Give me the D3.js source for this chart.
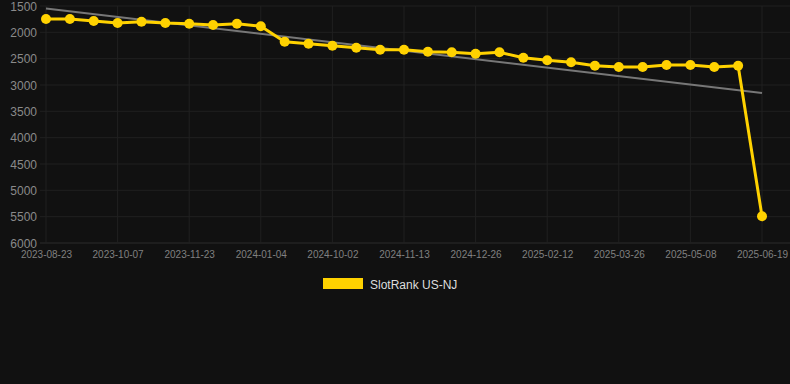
<!DOCTYPE html>
<html>
<head>
<meta charset="utf-8">
<script src="https://cdn.jsdelivr.net/npm/d3@7"></script>
<style>
  html, body { margin: 0; padding: 0; background: #111111; }
  svg { display: block; font-family: "Liberation Sans", Arial, sans-serif; }
</style>
</head>
<body>
<svg id="chart" width="790" height="384"></svg>
<script>
const categories = [
  "2023-08-23","2023-09-07","2023-09-22","2023-10-07","2023-10-22","2023-11-07",
  "2023-11-23","2023-12-07","2023-12-21","2024-01-04","2024-01-18","2024-09-18",
  "2024-10-02","2024-10-16","2024-10-30","2024-11-13","2024-11-27","2024-12-11",
  "2024-12-26","2025-01-10","2025-01-27","2025-02-12","2025-02-26","2025-03-12",
  "2025-03-26","2025-04-09","2025-04-23","2025-05-08","2025-05-22","2025-06-05",
  "2025-06-19"
];
const rankValues = [
  1747,1747,1785,1823,1798,1823,1836,1861,1836,1885,
  2178,2216,2254,2292,2330,2330,2368,2379,2406,2379,
  2482,2531,2569,2634,2658,2658,2620,2620,2658,2634,
  5493
];
const yTicks = [1500,2000,2500,3000,3500,4000,4500,5000,5500,6000];
const xTickLabels = categories.filter((d, i) => i % 3 === 0);
const seriesName = "SlotRank US-NJ";

const svg = d3.select("#chart");
const W = 790;
const plotLeft = 46, plotRight = 762, plotTop = 6, plotBottom = 243;

const x = d3.scalePoint().domain(categories).range([plotLeft, plotRight]);
const y = d3.scaleLinear().domain([1500, 6000]).range([plotTop, plotBottom]);

// horizontal grid
svg.append("g").selectAll("line").data(yTicks).join("line")
  .attr("x1", 40).attr("x2", W)
  .attr("y1", d => y(d)).attr("y2", d => y(d))
  .attr("stroke", d => d === 6000 ? "#2c2c2c" : "#202020")
  .attr("stroke-width", 1);

// vertical grid
svg.append("g").selectAll("line").data(xTickLabels).join("line")
  .attr("x1", d => x(d)).attr("x2", d => x(d))
  .attr("y1", plotTop).attr("y2", plotBottom)
  .attr("stroke", "#202020").attr("stroke-width", 1);

// y axis labels
const yAxis = d3.axisLeft(y).tickValues(yTicks).tickFormat(d3.format("d"))
  .tickSize(0).tickPadding(0);
const gy = svg.append("g").attr("transform", "translate(37,0)").call(yAxis);
gy.select(".domain").remove();
gy.selectAll("text").attr("fill", "#8a8a8a").style("font-size", "12px")
  .attr("dy", "0.35em");

// x axis labels
const xAxis = d3.axisBottom(x).tickValues(xTickLabels).tickSize(0).tickPadding(0);
const gx = svg.append("g").attr("transform", "translate(0,255)").call(xAxis);
gx.select(".domain").remove();
gx.selectAll("text").attr("fill", "#808080").style("font-size", "10px")
  .attr("dy", "0.32em");

// linear regression trend
const n = rankValues.length;
const xs = d3.range(n);
const mx = d3.mean(xs), my = d3.mean(rankValues);
const slope = d3.sum(xs, i => (i - mx) * (rankValues[i] - my)) / d3.sum(xs, i => (i - mx) ** 2);
const intercept = my - slope * mx;
const trend = [0, n - 1].map(i => ({ c: categories[i], v: intercept + slope * i }));
svg.append("path")
  .datum(trend)
  .attr("d", d3.line().x(d => x(d.c)).y(d => y(d.v)))
  .attr("fill", "none").attr("stroke", "#777777").attr("stroke-width", 2);

// series line
const data = categories.map((c, i) => ({ c, v: rankValues[i] }));
svg.append("path")
  .datum(data)
  .attr("d", d3.line().x(d => x(d.c)).y(d => y(d.v)))
  .attr("fill", "none").attr("stroke", "#FFD200").attr("stroke-width", 3)
  .attr("stroke-linejoin", "round");

svg.append("g").selectAll("circle").data(data).join("circle")
  .attr("cx", d => x(d.c)).attr("cy", d => y(d.v)).attr("r", 5)
  .attr("fill", "#FFD200");

// legend
const lg = svg.append("g");
lg.append("rect").attr("x", 323).attr("y", 278).attr("width", 40).attr("height", 11)
  .attr("fill", "#FFD200");
lg.append("text").attr("x", 370).attr("y", 288.5).text(seriesName)
  .attr("fill", "#dddddd").style("font-size", "12px");
</script>
</body>
</html>
